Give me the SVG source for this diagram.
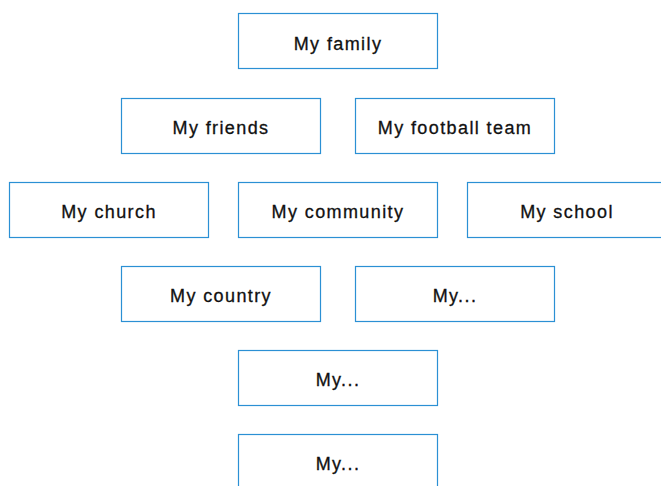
<svg xmlns="http://www.w3.org/2000/svg" width="661" height="486" viewBox="0 0 661 486">
<style>
.box{fill:#fff;stroke:#2b90d4;stroke-width:1.2}
.lbl{font-family:"Liberation Sans",Arial,sans-serif;font-size:18px;fill:#111;stroke:#111;stroke-width:0.3;text-anchor:middle;letter-spacing:1.4px}
</style>
<rect width="661" height="486" fill="#fff"/>
<g id="connectors"></g>
<g id="family"><rect class="box" x="238.5" y="13.5" width="199" height="55"/><text class="lbl" x="338" y="50">My family</text></g>
<g id="friends"><rect class="box" x="121.5" y="98.5" width="199" height="55"/><text class="lbl" x="221" y="134">My friends</text></g>
<g id="football"><rect class="box" x="355.5" y="98.5" width="199" height="55"/><text class="lbl" x="455" y="134">My football team</text></g>
<g id="church"><rect class="box" x="9.5" y="182.5" width="199" height="55"/><text class="lbl" x="109" y="218">My church</text></g>
<g id="community"><rect class="box" x="238.5" y="182.5" width="199" height="55"/><text class="lbl" x="338" y="218">My community</text></g>
<g id="school"><rect class="box" x="467.5" y="182.5" width="199" height="55"/><text class="lbl" x="567" y="218">My school</text></g>
<g id="country"><rect class="box" x="121.5" y="266.5" width="199" height="55"/><text class="lbl" x="221" y="302">My country</text></g>
<g id="my1"><rect class="box" x="355.5" y="266.5" width="199" height="55"/><text class="lbl" x="455" y="302">My...</text></g>
<g id="my2"><rect class="box" x="238.5" y="350.5" width="199" height="55"/><text class="lbl" x="338" y="386">My...</text></g>
<g id="my3"><rect class="box" x="238.5" y="434.5" width="199" height="55"/><text class="lbl" x="338" y="470">My...</text></g>
</svg>
